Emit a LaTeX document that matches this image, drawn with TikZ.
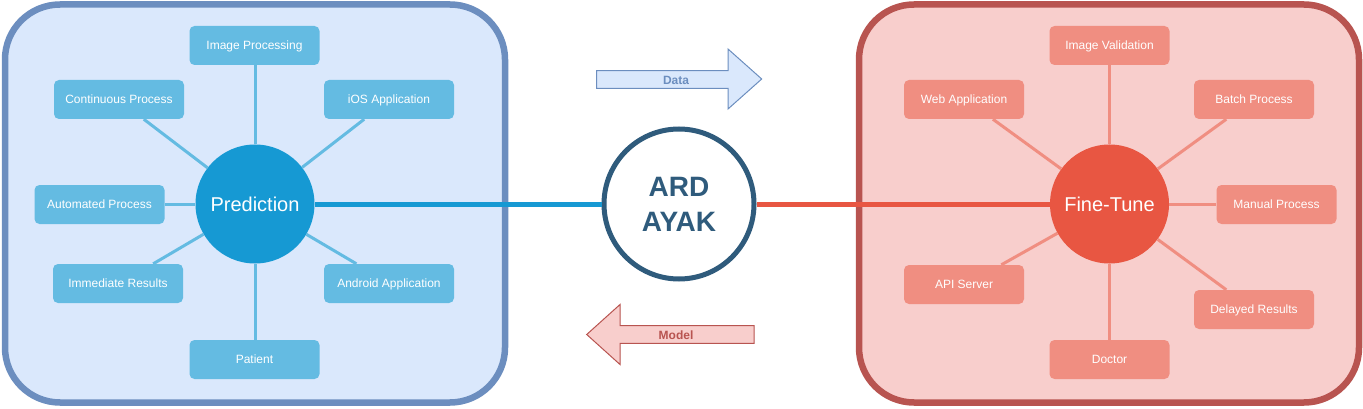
\documentclass[tikz,border=0pt]{standalone}
\usepackage{fontspec}
\setmainfont{Liberation Sans}
\usetikzlibrary{calc}
\definecolor{lpfill}{HTML}{DAE8FC}
\definecolor{lpdraw}{HTML}{6C8EBF}
\definecolor{rpfill}{HTML}{F8CECC}
\definecolor{rpdraw}{HTML}{B85450}
\definecolor{lbox}{HTML}{64BBE2}
\definecolor{lcirc}{HTML}{1699D3}
\definecolor{rbox}{HTML}{F08E81}
\definecolor{rcirc}{HTML}{E85642}
\definecolor{ardc}{HTML}{2F5B7C}
\begin{document}
\begin{tikzpicture}[x=1pt,y=-1pt,
  panel/.style={line width=6.5pt, rounded corners=55pt},
  lboxs/.style={fill=lbox, rounded corners=5pt, minimum width=130pt, minimum height=39pt, inner sep=0pt, text=white, text height=8.6pt, text depth=0pt, font=\fontsize{12}{14}\selectfont},
  rboxs/.style={lboxs, fill=rbox, minimum width=120pt},
  hub/.style={circle, minimum size=119pt, inner sep=0pt, text=white, text height=14.3pt, text depth=0pt, font=\fontsize{20}{24}\selectfont},
  lspoke/.style={draw=lbox, line width=3pt},
  rspoke/.style={draw=rbox, line width=3pt},
  bigarrow/.style={line width=1pt, line join=miter},
  arrowtext/.style={font=\bfseries\fontsize{12}{14}\selectfont, inner sep=0pt, text height=8.6pt, text depth=0pt}
]
\useasboundingbox (0,0) rectangle (1363,409);

% panels
\draw[panel, fill=lpfill, draw=lpdraw] (5,4.5) rectangle (505,402.5);
\draw[panel, fill=rpfill, draw=rpdraw] (859,4.5) rectangle (1359,402.5);

% big arrows
\draw[bigarrow, fill=lpfill, draw=lpdraw] (596.7,70.7) -- (728,70.7) -- (728,49) -- (761.7,79) -- (728,109) -- (728,88.3) -- (596.7,88.3) -- cycle;
\node[arrowtext, text=lpdraw] (data) at (676,80.5) {Data};
\draw[bigarrow, fill=rpfill, draw=rpdraw] (754,325.7) -- (620,325.7) -- (620,304.5) -- (586.7,334.5) -- (620,364.5) -- (620,343.3) -- (754,343.3) -- cycle;
\node[arrowtext, text=rpdraw] (model) at (676,335) {Model};

% hubs
\node[hub, fill=lcirc] (pred) at (255,204) {Prediction};
\node[hub, fill=rcirc] (ft) at (1109.5,204) {Fine-Tune};
\node[circle, draw=ardc, line width=5pt, fill=white, minimum size=150pt, inner sep=0pt,
      text=ardc, align=center, font=\bfseries\fontsize{28}{35}\selectfont] (ard) at (679,204) {ARD\\AYAK};

% left boxes
\node[lboxs] (ip)  at (254.5,45.5)  {Image Processing};
\node[lboxs] (cp)  at (119,99.5)    {Continuous Process};
\node[lboxs] (ios) at (389,99.5)    {iOS Application};
\node[lboxs] (ap)  at (99.5,204.5)  {Automated Process};
\node[lboxs] (ir)  at (118,283.5)   {Immediate Results};
\node[lboxs] (aa)  at (389,283.5)   {Android Application};
\node[lboxs] (pat) at (254.5,359.5) {Patient};

% right boxes
\node[rboxs] (iv)  at (1109.5,45.5)  {Image Validation};
\node[rboxs] (wa)  at (964,99.5)     {Web Application};
\node[rboxs] (bp)  at (1254,99.5)    {Batch Process};
\node[rboxs] (mp)  at (1276.5,204.5) {Manual Process};
\node[rboxs] (api) at (964,284.5)    {API Server};
\node[rboxs] (dr)  at (1254,309.5)   {Delayed Results};
\node[rboxs] (doc) at (1109.5,359.5) {Doctor};

% connectors
\draw[draw=lcirc, line width=5pt] (pred) -- (ard);
\draw[draw=rcirc, line width=5pt] (ard) -- (ft);

\draw[lspoke] (pred.north) -- (pred.north |- ip.south);
\draw[lspoke] (pred.south) -- (pred.south |- pat.north);
\draw[lspoke] (pred.west) -- (ap.east |- pred.west);
\draw[lspoke] (pred) -- ($(cp.south west)!0.69!(cp.south east)$);
\draw[lspoke] (pred) -- ($(ios.south west)!0.31!(ios.south east)$);
\draw[lspoke] (pred) -- ($(ir.north west)!0.77!(ir.north east)$);
\draw[lspoke] (pred) -- ($(aa.north west)!0.25!(aa.north east)$);

\draw[rspoke] (ft.north) -- (ft.north |- iv.south);
\draw[rspoke] (ft.south) -- (ft.south |- doc.north);
\draw[rspoke] (ft.east) -- (mp.west |- ft.east);
\draw[rspoke] (ft) -- ($(wa.south west)!0.74!(wa.south east)$);
\draw[rspoke] (ft) -- ($(bp.south west)!0.27!(bp.south east)$);
\draw[rspoke] (ft) -- ($(api.north west)!0.81!(api.north east)$);
\draw[rspoke] (ft) -- ($(dr.north west)!0.27!(dr.north east)$);
\end{tikzpicture}
\end{document}
